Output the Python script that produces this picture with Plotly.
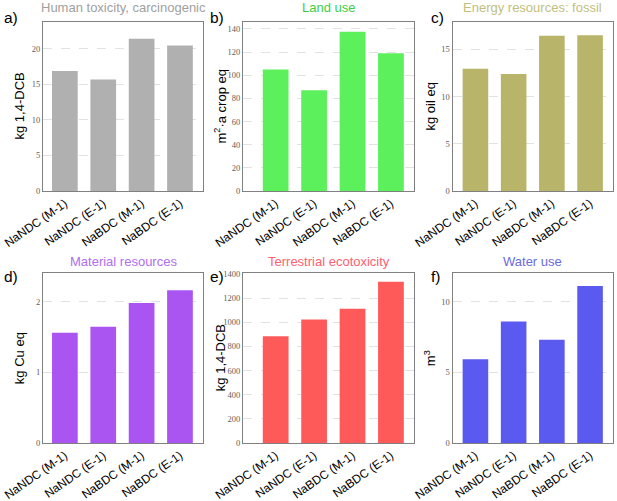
import plotly.graph_objects as go

categories = ["NaNDC (M-1)", "NaNDC (E-1)", "NaBDC (M-1)", "NaBDC (E-1)"]

human_toxicity = [16.9, 15.7, 21.45, 20.5]
land_use = [105, 87, 137.5, 119]
energy_fossil = [12.95, 12.4, 16.45, 16.5]
material_resources = [1.56, 1.645, 1.98, 2.16]
terrestrial_ecotox = [883, 1023, 1111, 1336]
water_use = [5.92, 8.6, 7.3, 11.1]

titles = ["Human toxicity, carcinogenic", "Land use", "Energy resources: fossil",
          "Material resources", "Terrestrial ecotoxicity", "Water use"]
ytitles = ["kg 1,4-DCB", "m<sup>2</sup>·a crop eq", "kg oil eq",
           "kg Cu eq", "kg 1,4-DCB", "m<sup>3</sup>"]
panel_labels = ["a)", "b)", "c)", "d)", "e)", "f)"]
series = [human_toxicity, land_use, energy_fossil, material_resources, terrestrial_ecotox, water_use]

bar_colors = ["#b0b0b0", "#5cf05c", "#b8b46a", "#aa55f2", "#ff5a5a", "#5a5af0"]
title_colors = ["#a0a0a0", "#3fcf3f", "#c2c07e", "#b06ef2", "#ff6070", "#6a6ae0"]

y_ranges = [[0, 23.8], [0, 146], [0, 17.9], [0, 2.4], [0, 1405], [0, 12.0]]
y_dticks = [5, 20, 5, 1, 200, 5]
x_ranges = [[-0.57, 3.6], [-0.85, 3.6], [-0.6, 3.6], [-0.57, 3.6], [-0.85, 3.6], [-0.6, 3.6]]

W, H = 617, 501
col_px = [(43, 203), (243, 414), (452.5, 613)]
row_px = [(22, 191), (273.3, 443)]
ytitle_x = [19, 220, 430]

fig = go.Figure()
annotations = []
layout = {}
for i in range(6):
    r, c = divmod(i, 3)
    xa = "x" if i == 0 else f"x{i+1}"
    ya = "y" if i == 0 else f"y{i+1}"
    xdom = [col_px[c][0] / W, col_px[c][1] / W]
    ydom = [1 - row_px[r][1] / H, 1 - row_px[r][0] / H]
    fig.add_trace(go.Bar(x=categories, y=series[i], xaxis=xa, yaxis=ya,
                         marker=dict(color=bar_colors[i], line=dict(width=0)),
                         width=0.67, showlegend=False))
    xkey = "xaxis" if i == 0 else f"xaxis{i+1}"
    ykey = "yaxis" if i == 0 else f"yaxis{i+1}"
    layout[xkey] = dict(domain=xdom, anchor=ya, range=x_ranges[i], automargin=False,
                        showline=True, mirror=True, linecolor="#808080", linewidth=1,
                        showgrid=False, ticks="", tickangle=-35,
                        tickfont=dict(family="Liberation Sans, Arial", size=12, color="#000"))
    layout[ykey] = dict(domain=ydom, anchor=xa, range=y_ranges[i], dtick=y_dticks[i],
                        automargin=False,
                        showline=True, mirror=True, linecolor="#808080", linewidth=1,
                        showgrid=True, gridcolor="#e2e2e2", griddash="dash", gridwidth=1,
                        zeroline=False, ticks="",
                        tickfont=dict(family="Liberation Serif, serif", size=8.5, color="#606060"))
    ymid = (ydom[0] + ydom[1]) / 2
    annotations.append(dict(text=ytitles[i], x=ytitle_x[c] / W, y=ymid, xref="paper", yref="paper",
                            xanchor="center", yanchor="middle", textangle=-90, showarrow=False,
                            font=dict(family="Liberation Sans, Arial", size=13, color="#000")))
    annotations.append(dict(text=titles[i], x=(xdom[0] + xdom[1]) / 2, y=1 - (8 if r == 0 else 261) / H,
                            xref="paper", yref="paper", xanchor="center", yanchor="middle",
                            showarrow=False,
                            font=dict(family="Liberation Sans, Arial", size=13, color=title_colors[i])))
    annotations.append(dict(text=panel_labels[i], x=[2, 208, 429][c] / W,
                            y=1 - (18 if r == 0 else 276) / H,
                            xref="paper", yref="paper", xanchor="left", yanchor="middle",
                            showarrow=False,
                            font=dict(family="Liberation Sans, Arial", size=15.5, color="#000")))

fig.update_layout(**layout)
fig.update_layout(width=W, height=H, margin=dict(l=0, r=0, t=0, b=0),
                  paper_bgcolor="white", plot_bgcolor="white",
                  annotations=annotations, bargap=0.33)
fig.write_html("out.html")
